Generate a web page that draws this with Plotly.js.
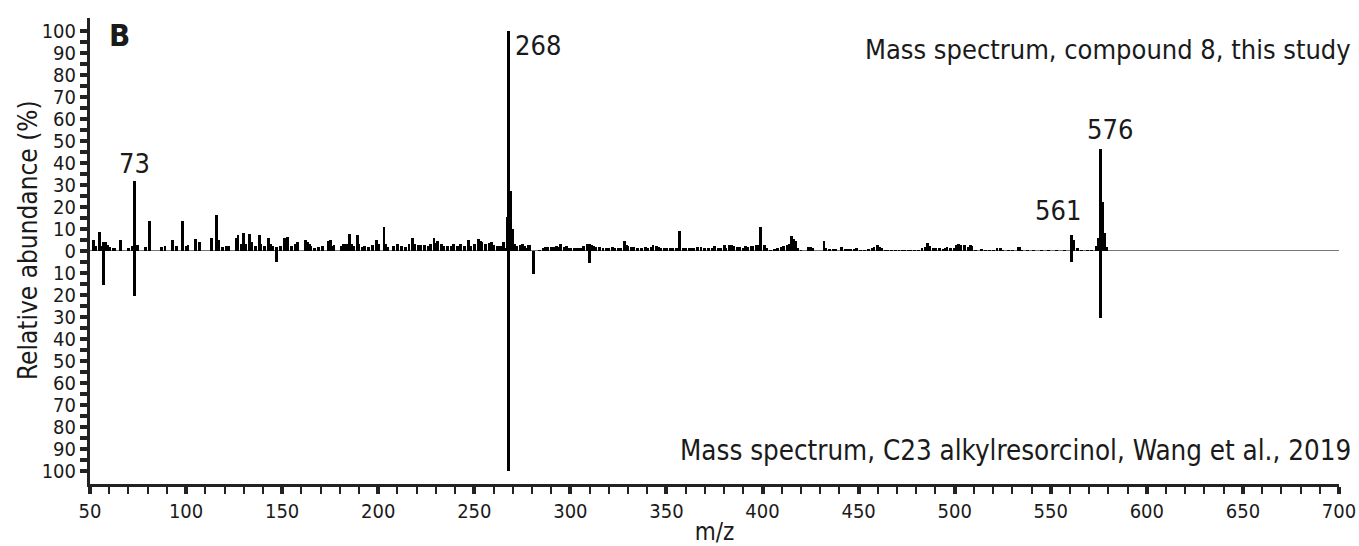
<!DOCTYPE html>
<html>
<head>
<meta charset="utf-8">
<script src="https://cdn.plot.ly/plotly-3.0.1.min.js"></script>
<style>
html,body{margin:0;padding:0;background:#fff;}
#chart{width:1359px;height:546px;}
</style>
</head>
<body>
<div id="chart"></div>
<script>
// Upper spectrum: compound 8, this study (m/z, relative abundance %)
const topMz = [52,53,55,56,57,58,59,60,62,63,66,70,72,73,74,75,79,81,87,89,93,95,98,100,101,105,107,113,116,117,119,121,122,126,127,129,130,131,133,134,136,138,139,141,143,144,145,147,149,151,
153,155,157,158,162,163,164,165,167,169,171,174,175,176,177,181,182,183,184,185,186,187,189,190,192,193,195,197,199,200,203,204,205,208,210,212,214,216,218,219,221,222,224,226,227,229,230,231,233,234,236,238,239,241,242,243,245,247,248,250,252,253,254,256,
258,259,260,262,263,264,265,266,267,268,269,270,271,272,274,275,276,277,278,279,284,286,287,288,290,291,293,294,295,297,298,299,300,302,303,304,306,307,309,310,311,312,313,315,317,319,320,322,323,325,326,328,329,330,332,333,335,337,339,340,342,343,345,346,347,349,350,352,353,355,357,359,360,
362,363,364,366,368,370,372,374,375,377,378,380,381,383,384,385,387,388,390,391,392,394,395,397,398,399,401,402,404,406,408,410,411,413,414,415,416,417,418,420,424,425,426,432,433,435,437,438,441,443,444,446,448,449,451,453,455,457,458,460,461,462,464,
465,467,469,471,473,474,476,477,479,481,483,485,486,487,489,490,492,494,495,496,498,500,501,502,503,505,507,508,509,511,514,516,518,520,522,524,525,528,530,533,534,535,538,541,545,549,553,557,561,562,564,566,569,571,574,575,576,577,578,579];
const topAbund = [4.8,2,8.3,2,3.8,3.8,2.5,1.5,1,1,4.8,1,2,31.8,2.5,2.5,1.5,13.6,1.5,2.3,4.8,2,13.6,2,2.5,5.3,4,5.6,16.4,4.8,1.5,2,2,5.6,7.1,3,8,3,7.6,4,2,7.1,3,2,5.8,3,2,1.5,2,5.6,
6,2,3,4,4.8,4,3,2,1,1.5,2,4.5,5,2,2.5,2,3,3,3,7.6,3,2,7.1,3,1.5,2,1.5,2.5,5,3,10.6,3,1.5,2,3,2,1.5,3,5.6,3,2.5,2.5,2.5,2,3,5.6,3.5,4.5,3,2,2,2,3,2,2,3,2,5,2,3,5.3,4.5,4,3,
3.5,3.8,2.5,2,2,2,4,1,15.5,100,27,10,3,2,2.5,3,2,1,2.5,2.5,0.5,1,1.5,1.5,1.5,1.5,2,1.5,3,1.5,2,1,1,1,1,1,1,2,3,3,2.5,2,1.5,1.5,1,1,1,1.5,1,1,1,4.2,2.5,2,1.5,1.5,1,1,1.5,1,1.5,2.7,2,1.5,1.2,1.2,1.2,1.2,1.2,1.2,9,1,1,
1,1,1,1.5,1.5,1,1,1,2,1,1.2,2.5,1,2.5,2.5,2,1.5,1.5,1,2,1.5,2,2,2.5,2.5,10.6,2.5,1,0.5,0.8,1,1.5,2,2.5,3,6.5,5.3,4.5,1,0.3,1.5,1.5,1,4.5,1,0.8,0.8,0.8,1.5,0.8,0.8,0.8,0.8,1.2,0.5,0.5,0.8,1.2,1.5,2.7,1.5,1,0.5,
0.3,0.3,0.3,0.3,0.5,0.5,0.5,0.5,0.5,0.5,1,1.5,3.3,2,1,1,1,0.8,1,1.5,1,1,2.5,3,2.5,2.5,1.5,2.5,2,0.3,0.8,0.5,0.3,0.3,1.2,1,0.3,0.3,0.3,1.5,1.5,0.5,0.2,0.2,0.2,0.2,0.2,0.2,7.1,5,1,0.5,0.3,0.3,2,5.6,46,22,8,1.5];

// Lower (mirrored) spectrum: C23 alkylresorcinol, Wang et al., 2019
const refMz = [57,73,147,268,281,310,561,576];
const refAbund = [15.5,20.5,5,100,10.5,5.5,5,30.5];

// Axis tick labels
const yTickVals = [-100,-90,-80,-70,-60,-50,-40,-30,-20,-10,0,10,20,30,40,50,60,70,80,90,100];
const yTickText = ["100","90","80","70","60","50","40","30","20","10","0","10","20","30","40","50","60","70","80","90","100"];
const xTickVals = [50,100,150,200,250,300,350,400,450,500,550,600,650,700];

// Peak labels
const peakLabels = [73,268,561,576];

const FONT = "'DejaVu Sans Condensed', 'DejaVu Sans', sans-serif";
const INK = "#1a1a1a";

// y ticks every 5 (labels only every 10)
const yAllVals = [], yAllText = [];
for (let v = -100; v <= 100; v += 5) {
  yAllVals.push(v);
  const i = yTickVals.indexOf(v);
  yAllText.push(i >= 0 ? yTickText[i] : "");
}

const traces = [
  {type: "bar", x: topMz, y: topAbund, width: 1.5, marker: {color: "#000", line: {width: 0}}, hoverinfo: "x+y"},
  {type: "bar", x: refMz, y: refAbund.map(v => -v), width: 1.5, marker: {color: "#000", line: {width: 0}}, hoverinfo: "x+y"}
];

const labelPos = {
  73:  {xanchor: "center", yanchor: "bottom", xshift: 0, yshift: 0},
  268: {xanchor: "left", yanchor: "top", xshift: 4, yshift: 3},
  561: {xanchor: "center", yanchor: "bottom", xshift: -14, yshift: 7},
  576: {xanchor: "center", yanchor: "bottom", xshift: 9, yshift: 2}
};
const annotations = peakLabels.map(m => {
  const i = topMz.indexOf(m);
  const p = labelPos[m];
  return {x: m, y: topAbund[i], xref: "x", yref: "y", text: String(m), showarrow: false,
    xanchor: p.xanchor, yanchor: p.yanchor, xshift: p.xshift, yshift: p.yshift,
    font: {family: FONT, size: 27, color: INK}};
});
annotations.push(
  {xref: "paper", yref: "paper", x: 1, y: 1, xanchor: "right", yanchor: "top", xshift: 14, yshift: -14,
   text: "Mass spectrum, compound 8, this study", showarrow: false, font: {family: FONT, size: 27, color: INK}},
  {xref: "paper", yref: "paper", x: 1, y: 0, xanchor: "right", yanchor: "bottom", xshift: 14, yshift: 16,
   text: "Mass spectrum, C23 alkylresorcinol, Wang et al., 2019", showarrow: false, font: {family: FONT, size: 27.5, color: INK}},
  {xref: "paper", yref: "paper", x: 0, y: 1, xanchor: "left", yanchor: "top", xshift: 17, yshift: 3,
   text: "<b>B</b>", showarrow: false, font: {family: FONT, size: 31, color: INK}},
  {xref: "paper", yref: "paper", x: 0, y: 0.5, xanchor: "center", yanchor: "middle", xshift: -62, yshift: 11,
   textangle: -90, text: "Relative abundance (%)", showarrow: false, font: {family: FONT, size: 26, color: INK}}
);

const layout = {
  width: 1359, height: 546,
  margin: {l: 90, r: 20, t: 18, b: 62},
  paper_bgcolor: "#fff", plot_bgcolor: "#fff",
  showlegend: false,
  barmode: "overlay",
  bargap: 0,
  font: {family: FONT, color: INK},
  xaxis: {
    range: [50, 700], tickmode: "array", tickvals: xTickVals,
    ticks: "outside", ticklen: 7, tickwidth: 4, tickcolor: "#222",
    minor: {dtick: 10, tick0: 50, ticks: "outside", ticklen: 7, tickwidth: 2, tickcolor: "#222", showgrid: false},
    showline: true, linecolor: "#222", linewidth: 3,
    showgrid: false, zeroline: false,
    tickfont: {family: FONT, size: 20, color: INK},
    title: {text: "m/z", font: {family: FONT, size: 24, color: INK}, standoff: 12}
  },
  yaxis: {
    range: [-106, 105.7], tickmode: "array", tickvals: yAllVals, ticktext: yAllText,
    ticks: "outside", ticklen: 7, tickwidth: 4, tickcolor: "#222",
    showline: true, linecolor: "#222", linewidth: 3,
    showgrid: false, zeroline: true, zerolinecolor: "#777", zerolinewidth: 1,
    tickfont: {family: FONT, size: 20, color: INK}
  },
  annotations: annotations
};

Plotly.newPlot("chart", traces, layout, {staticPlot: true, displayModeBar: false});
</script>
</body>
</html>
